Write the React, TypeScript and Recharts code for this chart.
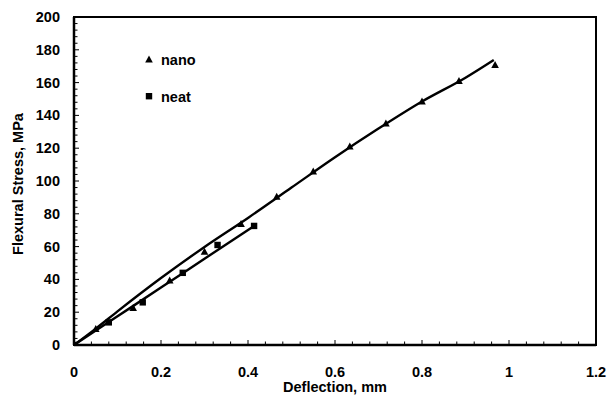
import React from "react";
import {
  ComposedChart,
  Line,
  Scatter,
  XAxis,
  YAxis,
  ReferenceArea,
  Legend,
} from "recharts";

// Measured points
const nanoX = [0, 0.05, 0.136, 0.22, 0.3, 0.384, 0.466, 0.55, 0.634, 0.717, 0.8, 0.885, 0.968];
const nanoY = [0, 9.8, 22.5, 39.3, 56.8, 73.8, 90.4, 105.8, 121, 135, 148.5, 161, 170.7];
const neatX = [0, 0.08, 0.158, 0.25, 0.33, 0.414];
const neatY = [0, 13.8, 26, 44, 61, 72.6];

// Trend lines
const nanoFitX = [0, 0.05, 0.1, 0.2, 0.3, 0.4, 0.5, 0.6, 0.7, 0.8, 0.9, 0.965];
const nanoFitY = [0, 10, 20.5, 40.8, 59.8, 77.5, 96, 114.5, 132, 148.5, 163, 173.8];
const neatFitX = [0, 0.1, 0.2, 0.3, 0.414];
const neatFitY = [0, 17.5, 35, 52.6, 72.6];

// Axis ticks
const xMajorTicks = [0, 0.2, 0.4, 0.6, 0.8, 1, 1.2];
const yMajorTicks = [0, 20, 40, 60, 80, 100, 120, 140, 160, 180, 200];
const xMinorStep = 0.04;
const yMinorStep = 4;

const legendLabels = ["nano", "neat"];
const xTitle = "Deflection, mm";
const yTitle = "Flexural Stress, MPa";

const zip = (xs: number[], ys: number[]) => xs.map((x, i) => ({ x, y: ys[i] }));
const nanoPts = zip(nanoX, nanoY);
const neatPts = zip(neatX, neatY);
const nanoFit = zip(nanoFitX, nanoFitY);
const neatFit = zip(neatFitX, neatFitY);

const xAllTicks: number[] = [];
for (let i = 0; i <= Math.round(1.2 / xMinorStep); i++) xAllTicks.push(Number((i * xMinorStep).toFixed(2)));
const yAllTicks: number[] = [];
for (let i = 0; i <= Math.round(200 / yMinorStep); i++) yAllTicks.push(i * yMinorStep);

const FONT = "'Liberation Sans', Arial, sans-serif";

const isMajor = (v: number, list: number[]) => list.some((m) => Math.abs(m - v) < 1e-6);

const XTick = (props: any) => {
  const { x, y, payload } = props;
  const v = payload.value;
  const major = isMajor(v, xMajorTicks);
  return (
    <g>
      <line x1={x} x2={x} y1={y} y2={y - (major ? 5 : 3.5)} stroke="#000" strokeWidth={1} />
      {major && (
        <text x={x} y={y + 27} textAnchor="middle" dominantBaseline="central" fontFamily={FONT} fontWeight="bold" fontSize={14.5} fill="#000">
          {String(v)}
        </text>
      )}
    </g>
  );
};

const YTick = (props: any) => {
  const { x, y, payload } = props;
  const v = payload.value;
  const major = isMajor(v, yMajorTicks);
  return (
    <g>
      <line x1={x} x2={x + (major ? 5 : 3.5)} y1={y} y2={y} stroke="#000" strokeWidth={1} />
      {major && (
        <text x={x - 14} y={y} textAnchor="end" dominantBaseline="central" fontFamily={FONT} fontWeight="bold" fontSize={14.5} fill="#000">
          {String(v)}
        </text>
      )}
    </g>
  );
};

const Triangle = (props: any) => {
  const { cx, cy } = props;
  if (cx == null || cy == null) return null;
  return <polygon points={`${cx},${cy - 4} ${cx - 3.8},${cy + 3} ${cx + 3.8},${cy + 3}`} fill="#000" />;
};

const Square = (props: any) => {
  const { cx, cy } = props;
  if (cx == null || cy == null) return null;
  return <rect x={cx - 3.2} y={cy - 3.2} width={6.4} height={6.4} fill="#000" />;
};

const LegendContent = () => (
  <div style={{ fontFamily: FONT, fontWeight: "bold", fontSize: 14.5, color: "#000" }}>
    <div style={{ display: "flex", alignItems: "center", height: 20 }}>
      <svg width={12} height={12} style={{ marginRight: 5 }}>
        <polygon points="5,1.5 1.2,8.5 8.8,8.5" fill="#000" />
      </svg>
      <span>{legendLabels[0]}</span>
    </div>
    <div style={{ display: "flex", alignItems: "center", height: 20, marginTop: 17 }}>
      <svg width={12} height={12} style={{ marginRight: 5 }}>
        <rect x={1.8} y={2} width={6.4} height={6.4} fill="#000" />
      </svg>
      <span>{legendLabels[1]}</span>
    </div>
  </div>
);

export default function App() {
  return (
    <div style={{ position: "absolute", left: 0, top: 0, width: 608, height: 407, background: "#fff", overflow: "hidden" }}>
      <ComposedChart width={608} height={407} margin={{ top: 17, right: 12, left: 0, bottom: 0 }} style={{ overflow: "visible" }}>
        <XAxis
          dataKey="x"
          type="number"
          domain={[0, 1.2]}
          ticks={xAllTicks}
          interval={0}
          allowDataOverflow
          height={62}
          tickSize={0}
          tickMargin={0}
          tickLine={false}
          axisLine={{ stroke: "#000", strokeWidth: 2.5 }}
          tick={<XTick />}
          label={(p: any) => {
            const vb = p.viewBox;
            return (
              <text x={vb.x + vb.width / 2} y={vb.y + 42} textAnchor="middle" dominantBaseline="central" fontFamily={FONT} fontWeight="bold" fontSize={14.5} fill="#000">
                {xTitle}
              </text>
            );
          }}
        />
        <YAxis
          dataKey="y"
          type="number"
          domain={[0, 200]}
          ticks={yAllTicks}
          interval={0}
          allowDataOverflow
          width={74}
          tickSize={0}
          tickMargin={0}
          tickLine={false}
          axisLine={{ stroke: "#000", strokeWidth: 2.5 }}
          tick={<YTick />}
          label={(p: any) => {
            const vb = p.viewBox;
            const cx = 18;
            const cy = vb.y + vb.height / 2 + 3;
            return (
              <text x={cx} y={cy} transform={`rotate(-90 ${cx} ${cy})`} textAnchor="middle" dominantBaseline="central" fontFamily={FONT} fontWeight="bold" fontSize={14.5} fill="#000">
                {yTitle}
              </text>
            );
          }}
        />
        <ReferenceArea x1={0} x2={1.2} y1={0} y2={200} fill="none" stroke="#000" strokeWidth={2} fillOpacity={0} />
        <Legend
          content={<LegendContent />}
          layout="vertical"
          verticalAlign="middle"
          align="center"
          wrapperStyle={{ left: 144, top: 50, width: 80, right: "auto", bottom: "auto" }}
        />
        <Line data={nanoFit} dataKey="y" type="monotone" stroke="#000" strokeWidth={2.4} dot={false} activeDot={false} isAnimationActive={false} legendType="none" />
        <Line data={neatFit} dataKey="y" type="monotone" stroke="#000" strokeWidth={2.4} dot={false} activeDot={false} isAnimationActive={false} legendType="none" />
        <Scatter data={nanoPts} dataKey="y" shape={<Triangle />} isAnimationActive={false} legendType="none" />
        <Scatter data={neatPts} dataKey="y" shape={<Square />} isAnimationActive={false} legendType="none" />
      </ComposedChart>
    </div>
  );
}
